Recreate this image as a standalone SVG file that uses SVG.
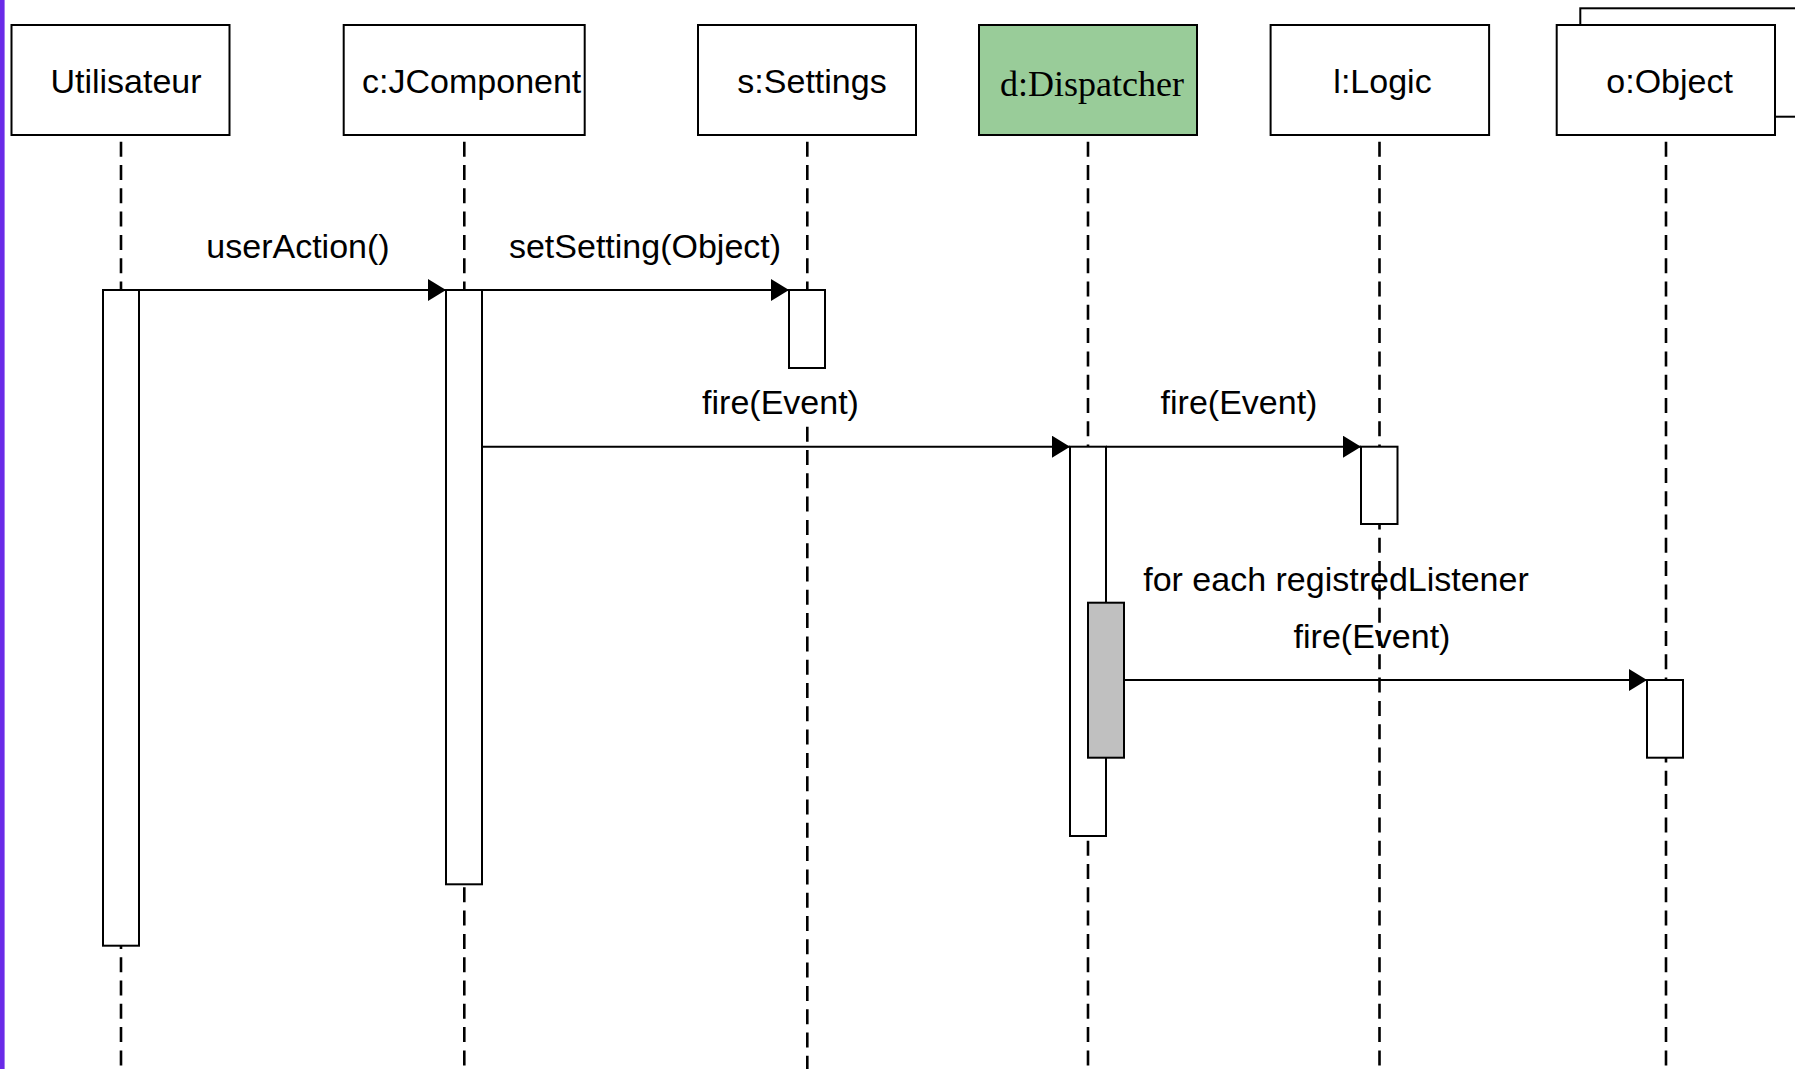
<svg xmlns="http://www.w3.org/2000/svg" width="1795" height="1069" viewBox="0 0 1795 1069">
<style>
.head{fill:#ffffff;stroke:#000;stroke-width:2}
.lbl{font-family:"Liberation Sans",Arial,sans-serif;font-size:34px;fill:#000;text-anchor:middle}
.serif{font-family:"Liberation Serif","Times New Roman",serif;font-size:36px;fill:#000;text-anchor:middle}
.life{stroke:#000;stroke-width:2.6;stroke-dasharray:15 8.3;fill:none}
.act{fill:#ffffff;stroke:#000;stroke-width:2}
.msg{stroke:#000;stroke-width:2;fill:none;marker-end:url(#arr)}
</style>
<defs>
<marker id="arr" markerWidth="18" markerHeight="22" refX="18" refY="11" orient="auto" markerUnits="userSpaceOnUse">
<path d="M0,0 L18,11 L0,22 Z" fill="#000"/>
</marker>
</defs>
<rect x="0" y="0" width="1795" height="1069" fill="#ffffff"/>
<rect x="0" y="0" width="4.6" height="1069" fill="#6a2ae8"/>

<g id="message-labels">
<text class="lbl" x="298" y="258">userAction()</text>
<text class="lbl" x="645" y="258">setSetting(Object)</text>
<text class="lbl" x="780.5" y="414">fire(Event)</text>
<text class="lbl" x="1239" y="414">fire(Event)</text>
<text class="lbl" x="1336" y="591">for each registredListener</text>
<text class="lbl" x="1372" y="647.5">fire(Event)</text>
</g>

<g id="node-utilisateur">
<rect class="head" x="11.5" y="25" width="218" height="110"/>
<text class="lbl" x="126" y="93">Utilisateur</text>
<line class="life" x1="121" y1="141.7" x2="121" y2="1069"/>
<rect class="act" x="103" y="290" width="36" height="655.7"/>
</g>

<g id="node-jcomponent">
<rect class="head" x="343.7" y="25" width="241" height="110"/>
<text class="lbl" x="471.7" y="93">c:JComponent</text>
<line class="life" x1="464.3" y1="141.7" x2="464.3" y2="1069"/>
<rect class="act" x="446" y="290" width="36" height="594.3"/>
</g>

<g id="node-settings">
<rect class="head" x="698" y="25" width="218" height="110"/>
<text class="lbl" x="812" y="93">s:Settings</text>
<line class="life" x1="807.3" y1="141.7" x2="807.3" y2="290"/>
<line class="life" x1="807.3" y1="426.7" x2="807.3" y2="1069"/>
<rect class="act" x="789" y="290" width="36" height="78"/>
</g>

<g id="node-dispatcher">
<rect class="head" x="979" y="25" width="218" height="110" style="fill:#99cc99"/>
<text class="serif" x="1092" y="95.5">d:Dispatcher</text>
<line class="life" x1="1088" y1="141.7" x2="1088" y2="1069"/>
<rect class="act" x="1070" y="446.7" width="36" height="389.3"/>
<rect class="act" x="1088" y="602.7" width="36" height="155" style="fill:#c0c0c0"/>
</g>

<g id="node-logic">
<rect class="head" x="1270.6" y="25" width="218.5" height="110"/>
<text class="lbl" x="1382.5" y="93">l:Logic</text>
<line class="life" x1="1379.5" y1="141.7" x2="1379.5" y2="1069"/>
<rect class="act" x="1361" y="446.7" width="36.5" height="77.3"/>
</g>

<g id="node-object">
<rect class="head" x="1580.3" y="8.3" width="300" height="108.4"/>
<rect class="head" x="1556.7" y="25" width="218.3" height="110"/>
<text class="lbl" x="1669.6" y="93">o:Object</text>
<line class="life" x1="1666" y1="141.7" x2="1666" y2="1069"/>
<rect class="act" x="1647" y="680" width="36" height="77.7"/>
</g>

<g id="connectors">
<line class="msg" x1="139" y1="290" x2="446" y2="290"/>
<line class="msg" x1="482" y1="290" x2="789" y2="290"/>
<line class="msg" x1="482" y1="446.7" x2="1070" y2="446.7"/>
<line class="msg" x1="1106" y1="446.7" x2="1361" y2="446.7"/>
<line class="msg" x1="1124" y1="680" x2="1647" y2="680"/>
</g>
</svg>
